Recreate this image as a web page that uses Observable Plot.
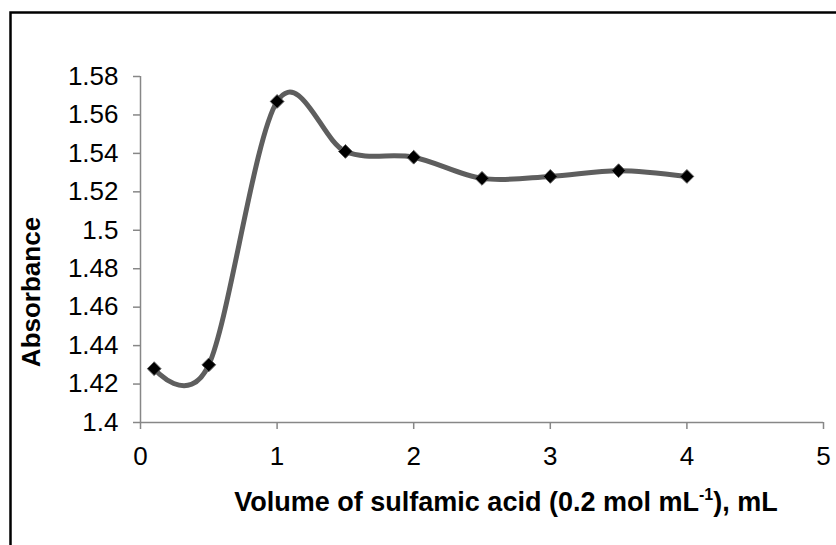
<!DOCTYPE html>
<html>
<head>
<meta charset="utf-8">
<script src="https://cdn.jsdelivr.net/npm/d3@7"></script>
<script src="https://cdn.jsdelivr.net/npm/@observablehq/plot@0.6"></script>
<style>
  html, body { margin: 0; padding: 0; background: #fff; }
  #chart { width: 836px; height: 545px; }
</style>
</head>
<body>
<div id="chart"></div>
<script>
// Absorbance vs. volume of sulfamic acid added
const volume = [0.1, 0.5, 1, 1.5, 2, 2.5, 3, 3.5, 4];
const absorbance = [1.428, 1.430, 1.567, 1.541, 1.538, 1.527, 1.528, 1.531, 1.528];

const xTicks = [0, 1, 2, 3, 4, 5];
const yTicks = [1.4, 1.42, 1.44, 1.46, 1.48, 1.5, 1.52, 1.54, 1.56, 1.58];

const yTitle = "Absorbance";
const xTitleParts = ["Volume of sulfamic acid (0.2 mol mL", "-1", "), mL"];

const data = volume.map((v, i) => ({volume: v, absorbance: absorbance[i]}));

const axisGray = "#878787";
const fmt = d => String(+d.toFixed(2));

const chart = Plot.plot({
  width: 836,
  height: 545,
  marginLeft: 140,
  marginRight: 13,
  marginTop: 76,
  marginBottom: 123,
  style: {
    fontFamily: "'Liberation Sans', Arial, sans-serif",
    fontSize: "26px",
    background: "#fff",
    color: "#000"
  },
  x: {domain: [0, 5]},
  y: {domain: [1.4, 1.58]},
  marks: [
    Plot.ruleY([1.4], {stroke: axisGray, strokeWidth: 1.5}),
    Plot.ruleX([0], {stroke: axisGray, strokeWidth: 1.5}),
    Plot.axisY({ticks: yTicks, tickFormat: fmt, tickSize: 7, tickPadding: 15,
      stroke: axisGray, strokeWidth: 1.5, fill: "#000", label: null}),
    Plot.axisX({ticks: xTicks, tickFormat: fmt, tickSize: 7, tickPadding: 17,
      stroke: axisGray, strokeWidth: 1.5, fill: "#000", label: null}),
    Plot.line(data, {x: "volume", y: "absorbance", curve: "cardinal",
      stroke: "#5e5e5e", strokeWidth: 5}),
    Plot.dot(data, {x: "volume", y: "absorbance", symbol: "diamond2",
      r: 6.2, fill: "#000", stroke: "#5a5a5a", strokeWidth: 1})
  ]
});

document.getElementById("chart").append(chart);

const svg = d3.select(chart);

// outer chart-area border (top and left edges)
svg.append("path")
  .attr("d", "M10.5,545V12.5H836")
  .attr("fill", "none")
  .attr("stroke", "#000")
  .attr("stroke-width", 2.5);

// axis titles
svg.append("text")
  .attr("transform", "translate(40,292) rotate(-90)")
  .attr("text-anchor", "middle")
  .attr("font-family", "'Liberation Sans', Arial, sans-serif")
  .attr("font-size", 26)
  .attr("font-weight", "bold")
  .attr("fill", "#000")
  .text(yTitle);

const xt = svg.append("text")
  .attr("x", 506)
  .attr("y", 511)
  .attr("text-anchor", "middle")
  .attr("font-family", "'Liberation Sans', Arial, sans-serif")
  .attr("font-size", 27)
  .attr("font-weight", "bold")
  .attr("fill", "#000");
xt.append("tspan").text(xTitleParts[0]);
xt.append("tspan").attr("font-size", 16).attr("dy", -11).text(xTitleParts[1]);
xt.append("tspan").attr("dy", 11).text(xTitleParts[2]);
</script>
</body>
</html>
